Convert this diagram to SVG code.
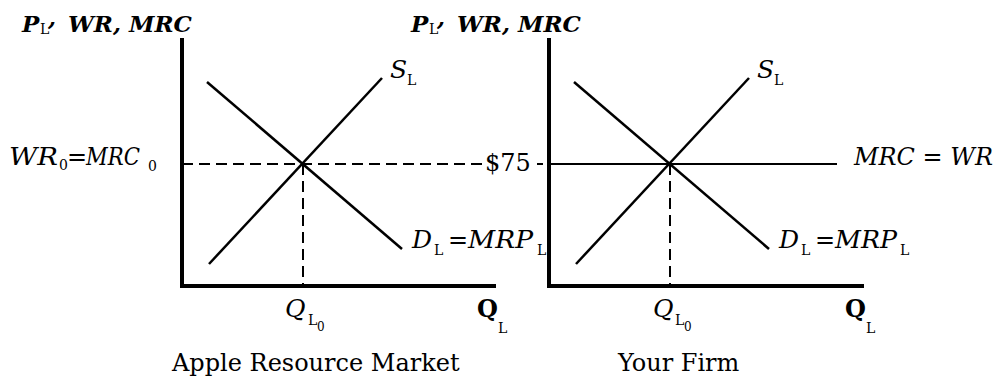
<svg xmlns="http://www.w3.org/2000/svg" width="997" height="377" viewBox="0 0 997 377">
<style>
text{font-family:"DejaVu Serif","Liberation Serif",serif;fill:#000}
.t{font-size:23px;font-weight:bold;font-style:italic}
.i{font-size:25px;font-style:italic}
.r{font-size:24px}
.s{font-size:14px;font-style:normal;font-weight:normal}
.ss{font-size:12px;font-style:normal;font-weight:normal}
.ax{fill:none;stroke:#000;stroke-width:4}
.cv{fill:none;stroke:#000;stroke-width:2.5}
.da{fill:none;stroke:#000;stroke-width:2;stroke-dasharray:11 6}
.so{fill:none;stroke:#000;stroke-width:2}
</style>
<rect width="997" height="377" fill="#fff"/>
<g id="left-panel">
  <path class="ax" d="M182,38 V286 H496"/>
  <text class="t" x="22" y="32">P</text><text class="s" x="40" y="34">L</text><text class="t" x="48" y="26">,</text><text class="t" x="68" y="32">WR, MRC</text>
  <text class="r" x="477" y="317" font-weight="bold">Q</text><text class="s" x="498" y="333">L</text>
  <text class="r" x="172" y="371">Apple Resource Market</text>
</g>
<g id="right-panel">
  <path class="ax" d="M549,38 V286 H864"/>
  <text class="t" x="411" y="32">P</text><text class="s" x="429" y="34">L</text><text class="t" x="437" y="26">,</text><text class="t" x="457" y="32">WR, MRC</text>
  <text class="r" x="845" y="317" font-weight="bold">Q</text><text class="s" x="866" y="333">L</text>
  <text class="r" x="618" y="371">Your Firm</text>
</g>
<g id="connectors">
  <path class="cv" d="M207,82 L402,249"/>
  <path class="cv" d="M209,264 L382,78"/>
  <path class="cv" d="M574,82 L769,249"/>
  <path class="cv" d="M576,264 L749,78"/>
  <path class="da" d="M182,164 H482"/>
  <path class="so" d="M537,164 H543"/>
  <path class="da" d="M303,164 V286"/>
  <path class="da" d="M670,164 V286"/>
  <path class="so" d="M549,164 H837"/>
</g>
<g id="labels-left">
  <text class="i" x="390" y="78">S</text><text class="s" x="407" y="85">L</text>
  <text class="i" x="412" y="248">D</text><text class="s" x="434" y="255">L</text><text class="r" x="448" y="248">=</text><text class="i" x="468" y="248" textLength="65" lengthAdjust="spacingAndGlyphs">MRP</text><text class="s" x="537" y="255">L</text>
  <text class="i" x="285" y="317">Q</text><text class="s" x="308" y="325">L</text><text class="ss" x="317" y="331">0</text>
  <text class="i" x="9" y="165" textLength="49" lengthAdjust="spacingAndGlyphs">WR</text><text class="s" x="59" y="170">0</text><text class="r" x="67" y="165">=</text><text class="i" x="86" y="165" textLength="54" lengthAdjust="spacingAndGlyphs">MRC</text><text class="s" x="148" y="171">0</text>
</g>
<g id="labels-right">
  <text class="r" x="485" y="171">$75</text>
  <text class="i" x="757" y="78">S</text><text class="s" x="774" y="85">L</text>
  <text class="i" x="779" y="248">D</text><text class="s" x="801" y="255">L</text><text class="r" x="815" y="248">=</text><text class="i" x="835" y="248" textLength="62" lengthAdjust="spacingAndGlyphs">MRP</text><text class="s" x="900" y="255">L</text>
  <text class="i" x="653" y="317">Q</text><text class="s" x="675" y="325">L</text><text class="ss" x="684" y="331">0</text>
  <text class="i" x="854" y="165" textLength="139" lengthAdjust="spacingAndGlyphs">MRC = WR</text>
</g>
</svg>
